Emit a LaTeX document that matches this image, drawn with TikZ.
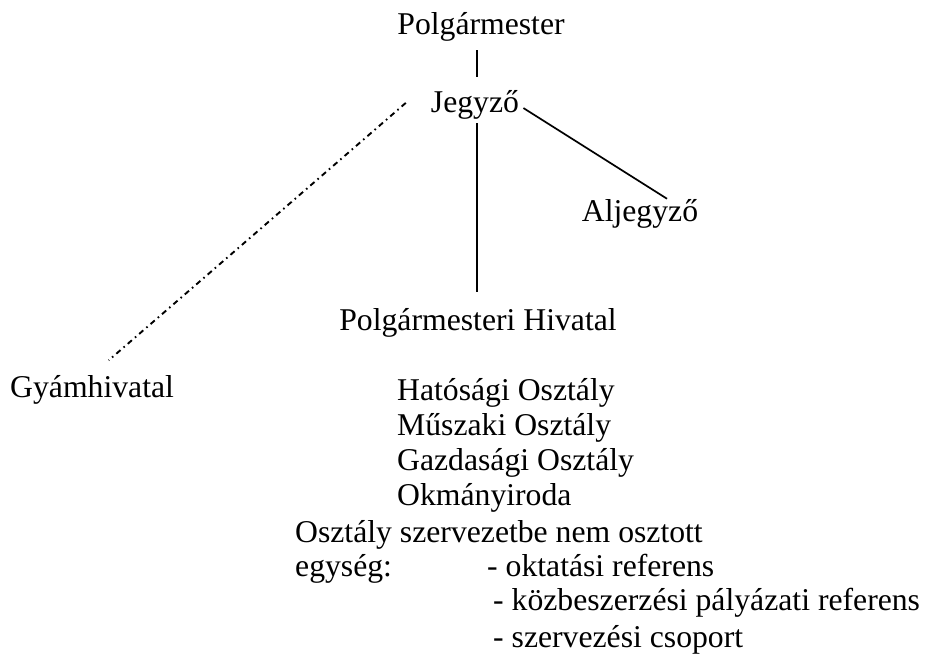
\documentclass[tikz,border=0pt]{standalone}
\usepackage{fontspec}
\setmainfont{Liberation Serif}
\begin{document}
\begin{tikzpicture}[x=1pt,y=-1pt,
  txt/.style={inner sep=0pt, font=\fontsize{31.7pt}{35pt}\selectfont},
  link/.style={line width=1.7pt, black},
  dashdotlink/.style={line width=1.9pt, black, dash pattern=on 5.5pt off 4pt on 1.6pt off 4pt}]
\useasboundingbox (0,0) rectangle (931,663);
% top hierarchy
\node[txt, anchor=base] (pm) at (481,35) {Polgármester};
\node[txt, anchor=base] (jz) at (475,113) {Jegyző};
\node[txt, anchor=base] (al) at (640,222) {Aljegyző};
\node[txt, anchor=base] (ph) at (478,330) {Polgármesteri Hivatal};
\node[txt, anchor=base west] (gy) at (10,397) {Gyámhivatal};
% connectors
\draw[link, shorten <=8pt, shorten >=14pt] ([xshift=2pt]jz.north |- pm.south) -- ([xshift=2pt]jz.north);
\draw[link, shorten <=3pt, shorten >=16pt] ([xshift=2pt]jz.south) -- ([xshift=2pt]jz.south |- ph.north);
\draw[link, shorten <=5pt] (jz.east) -- ([xshift=27pt,yshift=1pt]al.north);
\draw[dashdotlink, shorten >=22pt] ([xshift=-25pt,yshift=2.5pt]jz.west) -- (gy.north);
% departments
\node[txt, anchor=base west] (hat) at (397,400) {Hatósági Osztály};
\node[txt, anchor=base west] (musz) at (397,435) {Műszaki Osztály};
\node[txt, anchor=base west] (gazd) at (397,470) {Gazdasági Osztály};
\node[txt, anchor=base west] (okm) at (397,505) {Okmányiroda};
\node[txt, anchor=base west] (osz) at (295,542) {Osztály szervezetbe nem osztott};
\node[txt, anchor=base west] (egy) at (295,576) {egység:};
\node[txt, anchor=base west] (okt) at (487,576) {- oktatási referens};
\node[txt, anchor=base west] (kozb) at (493,610) {- közbeszerzési pályázati referens};
\node[txt, anchor=base west] (szerv) at (493,647) {- szervezési csoport};
\end{tikzpicture}
\end{document}
